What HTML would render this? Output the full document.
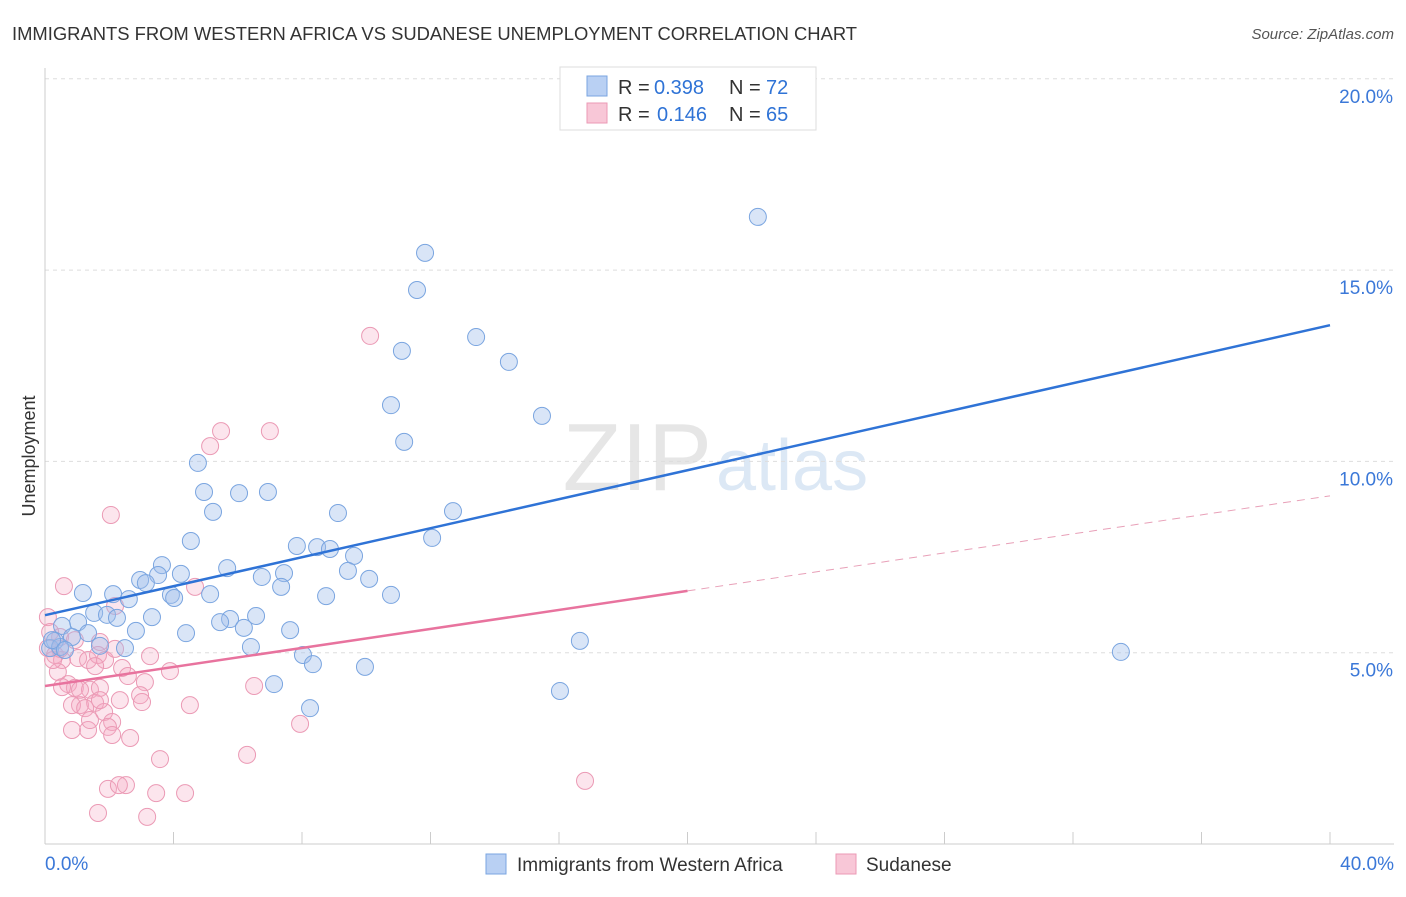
<!DOCTYPE html>
<html><head><meta charset="utf-8"><style>
body{margin:0;background:#fff;font-family:"Liberation Sans",sans-serif;}
svg text{font-family:"Liberation Sans",sans-serif;}
</style></head><body>
<svg id="chart" width="1406" height="892" viewBox="0 0 1406 892">
<text x="12" y="40" font-size="18.4" fill="#333">IMMIGRANTS FROM WESTERN AFRICA VS SUDANESE UNEMPLOYMENT CORRELATION CHART</text>
<text x="1394" y="39" font-size="15" fill="#555" font-style="italic" text-anchor="end">Source: ZipAtlas.com</text>
<text x="712" y="490" font-size="96" fill="#e6e6e6" font-family="Liberation Serif" text-anchor="end">ZIP</text>
<text x="716" y="490" font-size="72" fill="#dce8f5">atlas</text>
<g id="grid"></g>
<g id="axes"></g>
<g id="points"></g>
<g id="trends"></g>
<text x="35" y="456" font-size="18" fill="#333" transform="rotate(-90 35 456)" text-anchor="middle">Unemployment</text>
<g>
<rect x="560" y="67" width="256" height="63" fill="#fff" stroke="#ddd"/>
<rect x="587" y="76" width="20" height="20" fill="#b9d0f3" stroke="#7aa5e0"/>
<rect x="587" y="103" width="20" height="20" fill="#f8c7d7" stroke="#eb9ab5"/>
<text x="618" y="94" font-size="20" fill="#333">R =</text>
<text x="654" y="94" font-size="20" fill="#2f73d6">0.398</text>
<text x="729" y="94" font-size="20" fill="#333">N =</text>
<text x="766" y="94" font-size="20" fill="#2f73d6">72</text>
<text x="618" y="121" font-size="20" fill="#333">R =</text>
<text x="657" y="121" font-size="20" fill="#2f73d6">0.146</text>
<text x="729" y="121" font-size="20" fill="#333">N =</text>
<text x="766" y="121" font-size="20" fill="#2f73d6">65</text>
</g>
<g>
<rect x="486" y="854" width="20" height="20" fill="#b9d0f3" stroke="#7aa5e0"/>
<text x="517" y="871" font-size="19" fill="#333">Immigrants from Western Africa</text>
<rect x="836" y="854" width="20" height="20" fill="#f8c7d7" stroke="#eb9ab5"/>
<text x="866" y="871" font-size="19" fill="#333">Sudanese</text>
</g>
</svg>
<script>
const yTicks=[5,10,15,20];
const yTickLabels=["5.0%","10.0%","15.0%","20.0%"];
const xTickLabels=["0.0%","40.0%"];
const blueX=[22.19,11.83,11.58,13.42,11.11,14.44,10.77,15.47,11.18,4.76,4.95,6.04,6.94,5.23,9.12,12.70,4.54,12.05,7.84,8.47,8.87,9.62,3.64,5.67,9.43,4.23,3.52,6.75,7.44,10.09,2.96,3.14,7.35,1.18,2.12,3.92,5.14,8.75,10.77,2.61,4.02,1.53,1.93,2.24,3.33,6.57,5.76,5.45,1.03,0.53,6.19,2.83,4.39,7.63,1.34,0.84,0.31,16.65,1.71,2.49,6.41,0.16,0.47,33.49,8.03,8.34,9.96,7.13,16.03,8.25,0.22,0.62];
const blueY=[16.39,15.45,14.48,13.25,12.89,12.60,11.47,11.19,10.51,9.96,9.20,9.17,9.20,8.68,8.65,8.70,7.92,8.00,7.79,7.76,7.71,7.53,7.29,7.21,7.14,7.06,7.03,6.98,7.08,6.93,6.90,6.82,6.72,6.56,6.53,6.51,6.53,6.48,6.51,6.40,6.43,6.04,5.99,5.91,5.93,5.96,5.88,5.80,5.80,5.70,5.65,5.57,5.51,5.59,5.51,5.41,5.31,5.31,5.18,5.12,5.15,5.12,5.15,5.02,4.94,4.70,4.63,4.18,4.00,3.55,5.33,5.07];
const pinkX=[10.12,5.14,5.48,7.00,2.05,0.59,0.09,2.18,4.67,0.47,0.93,1.71,0.09,0.31,0.53,1.03,1.34,1.65,1.87,2.40,3.27,3.89,0.40,0.72,0.93,1.40,1.71,0.53,2.58,3.11,1.09,0.84,1.56,1.25,1.84,2.96,3.02,4.51,6.51,2.09,1.96,2.09,2.65,0.84,1.34,7.94,6.29,3.58,16.81,1.96,2.52,2.30,3.46,4.36,1.65,3.18,0.16,0.25,1.56,0.47,1.71,2.18,2.33,1.09,1.40];
const pinkY=[13.28,10.40,10.79,10.79,8.60,6.74,5.93,6.22,6.72,5.41,5.33,5.28,5.12,4.94,4.81,4.86,4.81,4.94,4.81,4.60,4.91,4.52,4.50,4.18,4.08,4.03,4.08,4.10,4.39,4.23,3.63,3.63,3.69,3.55,3.45,3.89,3.71,3.63,4.13,3.19,3.06,2.85,2.77,2.98,2.98,3.14,2.33,2.22,1.65,1.44,1.54,1.54,1.33,1.33,0.81,0.71,5.54,4.81,4.65,5.10,3.76,5.10,3.76,4.03,3.24];
const blueTrend=[5.98,13.56];
const pinkTrend=[4.13,9.10];
const pinkSolidEnd=20;
const NS="http://www.w3.org/2000/svg";
const X=v=>45+v*(1285/40);
const Y=v=>844-v*38.26;
function mk(tag,attrs,parent){const e=document.createElementNS(NS,tag);for(const k in attrs)e.setAttribute(k,attrs[k]);document.getElementById(parent).appendChild(e);return e;}
yTicks.forEach((t,i)=>{
 const g=mk('line',{x1:45,x2:1394,y1:Y(t),y2:Y(t),stroke:'#ddd','stroke-dasharray':'4,4'},'grid');
 
 
 const tx=mk('text',{x:1393,y:Y(t)+24,'font-size':19,fill:'#3b78d8','text-anchor':'end'},'axes');
 tx.textContent=yTickLabels[i];
 
 
});
const yl=mk('line',{x1:45,x2:45,y1:68,y2:844,stroke:'#ccc'},'axes');


const xl=mk('line',{x1:45,x2:1394,y1:844,y2:844,stroke:'#ccc'},'axes');


for(let i=0;i<=10;i++){const tk=mk('line',{x1:X(i*4),x2:X(i*4),y1:832,y2:844,stroke:'#ccc'},'axes');
 
 }
[[0,xTickLabels[0],'start',45],[40,xTickLabels[1],'end',1394]].forEach(a=>{const t=mk('text',{x:a[3],y:870,'font-size':19,fill:'#3b78d8','text-anchor':a[2]},'axes');t.textContent=a[1];
 
 });
pinkX.forEach((x,i)=>{const c=mk('circle',{cx:X(x),cy:Y(pinkY[i]),r:8.5,fill:'rgba(245,170,195,0.3)',stroke:'#eb9ab5','stroke-width':1},'points');
 
 });
blueX.forEach((x,i)=>{const c=mk('circle',{cx:X(x),cy:Y(blueY[i]),r:8.5,fill:'rgba(160,190,235,0.4)',stroke:'#7aa5e0','stroke-width':1},'points');
 
 });
const bl=mk('line',{x1:X(0),y1:Y(blueTrend[0]),x2:X(40),y2:Y(blueTrend[1]),stroke:'#2f73d6','stroke-width':2.5},'trends');


const pm=pinkTrend[0]+(pinkTrend[1]-pinkTrend[0])*pinkSolidEnd/40;
const pl=mk('line',{x1:X(0),y1:Y(pinkTrend[0]),x2:X(pinkSolidEnd),y2:Y(pm),stroke:'#e8739e','stroke-width':2.5},'trends');


const pd=mk('line',{x1:X(pinkSolidEnd),y1:Y(pm),x2:X(40),y2:Y(pinkTrend[1]),stroke:'#e8a0b8','stroke-width':1,'stroke-dasharray':'8,6'},'trends');


</script>
</body></html>
